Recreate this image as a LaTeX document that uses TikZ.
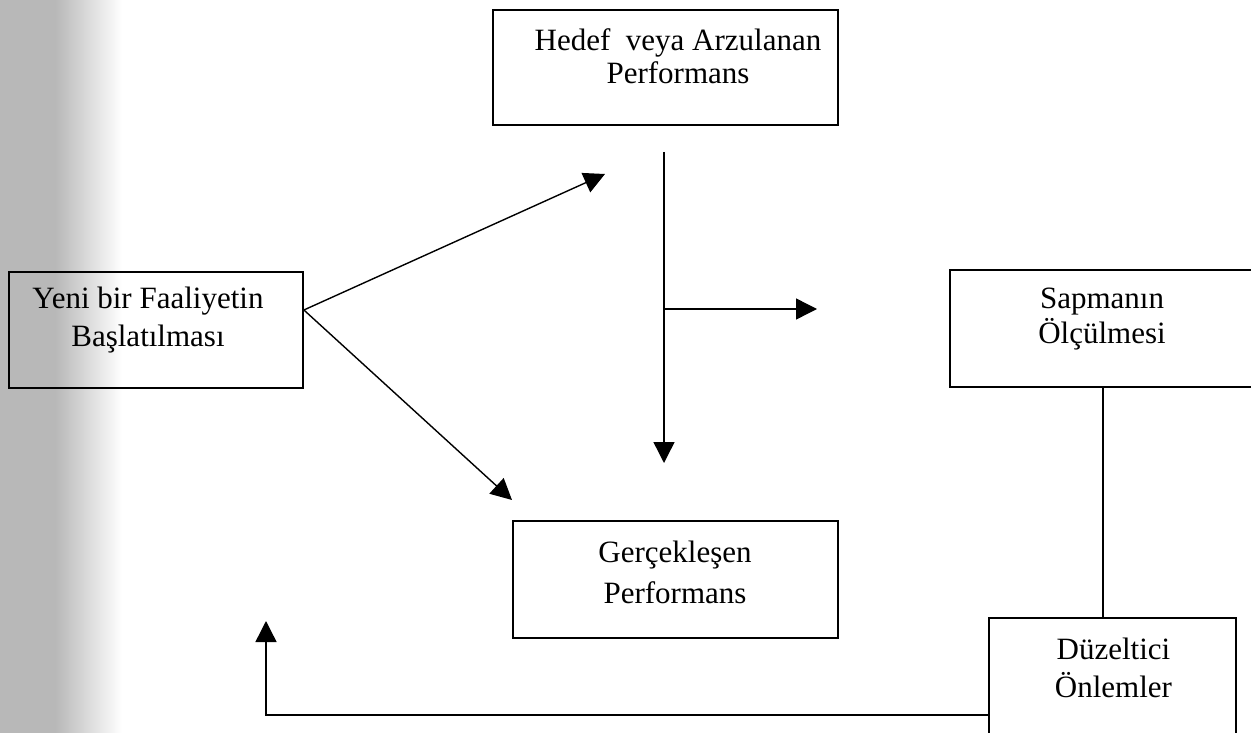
\documentclass[tikz,border=0pt]{standalone}
\usepackage{fontspec}
\setmainfont{Liberation Serif}
\usetikzlibrary{arrows.meta,calc}
\tikzset{
  box/.style={draw=black, line width=1.8pt, inner sep=0pt, fill=none},
  lbl/.style={align=center, inner sep=0pt, font=\fontsize{31}{#1}\selectfont},
  lbl/.default=36,
  conn/.style={draw=black, line width=1.4pt, -{Triangle[length=21pt,width=21pt]}},
  plain/.style={draw=black, line width=1.4pt}
}
\begin{document}
\begin{tikzpicture}[x=1pt,y=-1pt]
\useasboundingbox (0,0) rectangle (1251,733);
% scanned grey band on the left
\fill[black!28] (0,0) rectangle (55,733);
\shade[left color=black!28, right color=white] (55,0) rectangle (122,733);

% boxes
\node[box, minimum width=345pt, minimum height=115pt] (hedef) at (665.5,67.5) {};
\node[box, minimum width=294pt, minimum height=116pt] (yeni) at (156,330) {};
\node[box, minimum width=306pt, minimum height=117pt] (sap) at (1103,328.5) {};
\node[box, minimum width=325pt, minimum height=117pt] (gerc) at (675.5,579.5) {};
\node[box, minimum width=247pt, minimum height=127pt] (duz) at (1112.5,681.5) {};

% texts
\node[lbl=33] (hedefT) at (678,56) {Hedef\ \ veya Arzulanan\\Performans};
\node[lbl=38] (yeniT) at (148,320.5) {Yeni bir Faaliyetin\\Başlatılması};
\node[lbl=35] (sapT) at (1102,319) {Sapmanın\\Ölçülmesi};
\node[lbl=41] (gercT) at (675,572) {Gerçekleşen\\Performans};
\node[lbl=38] (duzT) at (1113.5,667.5) {Düzeltici\\Önlemler};

% free ends
\coordinate (t1) at (605,174);
\coordinate (t2) at (512,500);
\coordinate (vTop) at (664,152);
\coordinate (vBot) at (664,463);
\coordinate (hEnd) at (817,309);
\coordinate (fb) at (266,621);

% connectors
\coordinate (split) at ($(yeni.east)+(0,-20)$);
\draw[conn] (split) -- (t1);
\draw[conn] (split) -- (t2);
\draw[conn] (vTop) -- (vBot);
\draw[conn] (vTop |- hEnd) -- (hEnd);
\draw[plain] (sap.south) -- (sap.south |- duz.north);
\draw[conn] (duz.west |- 0,715) -- (fb |- 0,715) -- (fb);
\end{tikzpicture}
\end{document}
